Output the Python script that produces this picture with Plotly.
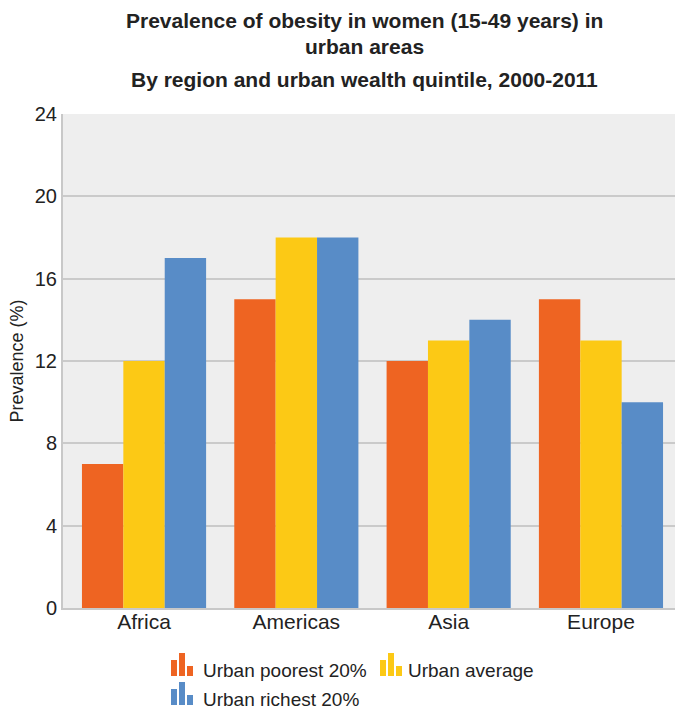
import plotly.graph_objects as go

regions = ["Africa", "Americas", "Asia", "Europe"]
poorest = [7, 15, 12, 15]
average = [12, 18, 13, 13]
richest = [17, 18, 14, 10]

series_names = ["Urban poorest 20%", "Urban average", "Urban richest 20%"]
series_values = [poorest, average, richest]
series_colors = ["#EE6422", "#FCC915", "#588CC7"]

y_ticks = [0, 4, 8, 12, 16, 20, 24]

W, H = 675, 709
L, R, T, B = 63, 0, 114, 101
PW, PH = W - L - R, H - T - B

FONT = "Liberation Sans, Arial, sans-serif"
TXT = "#222222"

fig = go.Figure()
for name, vals, col in zip(series_names, series_values, series_colors):
    fig.add_trace(go.Bar(x=regions, y=vals, name=name, marker=dict(color=col, line=dict(width=0)),
                         showlegend=False))


def px(x):
    return (x - L) / PW


def py(y):
    return (H - B - y) / PH


# Custom legend with small bar-chart icons
shapes = []
annotations = []
legend_items = [
    (171, 676, 203, 0),
    (380, 676, 408, 1),
    (171, 705, 203, 2),
]
icon_bars = [(0, 16), (8, 23), (16, 10)]
for ix, base, tx, k in legend_items:
    for dx, h in icon_bars:
        shapes.append(dict(type="rect", xref="paper", yref="paper",
                           x0=px(ix + dx), x1=px(ix + dx + 6),
                           y0=py(base), y1=py(base - h),
                           fillcolor=series_colors[k], line=dict(width=0)))
    annotations.append(dict(xref="paper", yref="paper", x=px(tx - 2), y=py(base - 6),
                            text=series_names[k], showarrow=False, xanchor="left",
                            yanchor="middle", font=dict(family=FONT, size=19, color=TXT)))

# Title lines
title_lines = [
    ("Prevalence of obesity in women (15-49 years) in", 21),
    ("urban areas", 46),
    ("By region and urban wealth quintile, 2000-2011", 80),
]
for text, yc in title_lines:
    annotations.append(dict(xref="paper", yref="paper", x=px(364), y=py(yc), yanchor="middle",
                            text="<b>" + text + "</b>", showarrow=False, xanchor="center",
                            font=dict(family=FONT, size=21, color=TXT)))

fig.update_layout(
    width=W, height=H,
    margin=dict(l=L, r=R, t=T, b=B),
    paper_bgcolor="white",
    plot_bgcolor="#EEEEEE",
    barmode="group",
    bargap=0.185,
    bargroupgap=0,
    shapes=shapes,
    annotations=annotations,
    font=dict(family=FONT, color=TXT),
)
fig.update_xaxes(
    range=[-0.532, 3.486],
    showline=True, linecolor="#C8C8C8", linewidth=2,
    showgrid=False, ticks="",
    ticklabelstandoff=-6,
    tickfont=dict(family=FONT, size=21, color=TXT),
)
fig.update_yaxes(
    range=[0, 24], tickvals=y_ticks,
    showgrid=True, gridcolor="#CACACA", gridwidth=2,
    showline=True, linecolor="#C8C8C8", linewidth=2,
    zeroline=False, ticks="",
    tickfont=dict(family=FONT, size=20, color=TXT),
    title=dict(text="Prevalence (%)", font=dict(family=FONT, size=18, color=TXT), standoff=6),
)

fig.write_html("out.html")
